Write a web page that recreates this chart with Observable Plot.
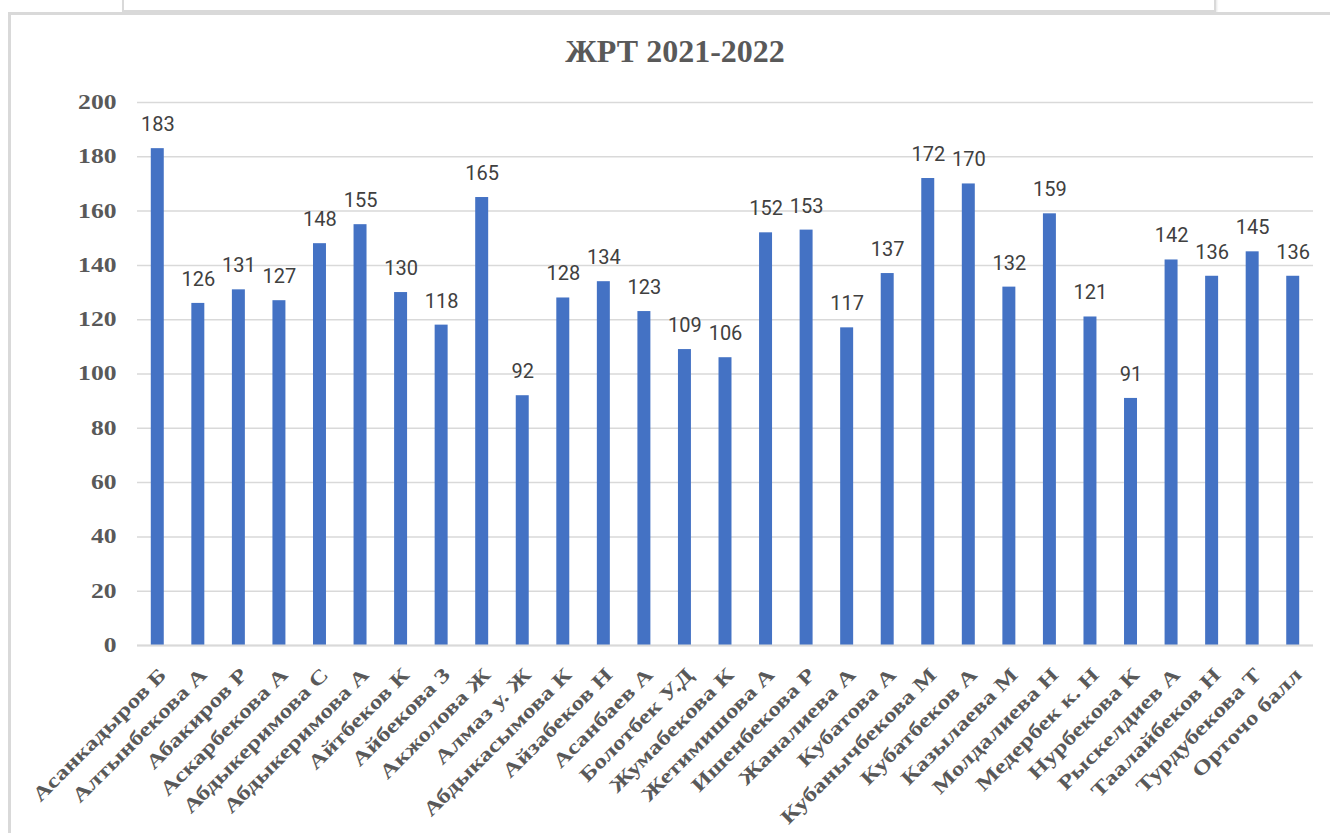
<!DOCTYPE html>
<html>
<head>
<meta charset="utf-8">
<script src="https://cdn.jsdelivr.net/npm/d3@7"></script>
<script src="https://cdn.jsdelivr.net/npm/@observablehq/plot@0.6"></script>
<style>
  html, body { margin: 0; padding: 0; background: #fff; overflow: hidden; }
  #wrap { position: relative; width: 1330px; height: 833px; }
  #topbox { position: absolute; left: 122px; top: -4px; width: 1090px; height: 12px;
            border: 2px solid #d9d9d9; box-shadow: 1px 1px 2px #e6e6e6; }
  #frame { position: absolute; left: 8px; top: 12px; width: 1340px; height: 850px;
           border: 3px solid #d9d9d9; }
  #title { position: absolute; left: 10px; width: 1330px; top: 33px; text-align: center;
           font-family: "Liberation Serif", "Times New Roman", serif; font-weight: bold;
           font-size: 32px; line-height: 1.15; color: #595959; }
  #chart { position: absolute; left: 0; top: 0; }
</style>
</head>
<body>
<div id="wrap">
  <div id="topbox"></div>
  <div id="frame"></div>
  <div id="title">ЖРТ 2021-2022</div>
  <div id="chart"></div>
</div>
<script>
const names = [
  "Асанкадыров Б", "Алтынбекова А", "Абакиров Р", "Аскарбекова А", "Абдыкеримова С",
  "Абдыкеримова А", "Айтбеков К", "Айбекова З", "Акжолова Ж", "Алмаз у. Ж",
  "Абдыкасымова К", "Айзабеков Н", "Асанбаев А", "Болотбек У.Д", "Жумабекова К",
  "Жетимишова А", "Ишенбекова Р", "Жаналиева А", "Кубатова А", "Кубанычбекова М",
  "Кубатбеков А", "Казылаева М", "Молдалиева Н", "Медербек к. Н", "Нурбекова К",
  "Рыскелдиев А", "Таалайбеков Н", "Турдубекова Т", "Орточо балл"
];
const scores = [183, 126, 131, 127, 148, 155, 130, 118, 165, 92, 128, 134, 123, 109, 106,
                152, 153, 117, 137, 172, 170, 132, 159, 121, 91, 142, 136, 145, 136];
const yTicks = [0, 20, 40, 60, 80, 100, 120, 140, 160, 180, 200];

const data = names.map((n, i) => ({name: n, value: scores[i]}));

const chart = Plot.plot({
  width: 1330,
  height: 833,
  marginLeft: 137,
  marginRight: 17,
  marginTop: 102,
  marginBottom: 188,
  style: {background: "transparent", overflow: "visible"},
  x: {domain: names, paddingInner: 0.68, paddingOuter: 0.34, round: false, label: null},
  y: {domain: [0, 200], label: null},
  marks: [
    Plot.gridY(yTicks, {stroke: "#d9d9d9", strokeOpacity: 1, strokeWidth: 1.5}),
    Plot.barY(data, {x: "name", y: "value", fill: "#4472c4"}),
    Plot.ruleY([0], {stroke: "#d9d9d9", strokeWidth: 2}),
    Plot.text(data, {x: "name", y: "value", text: d => String(d.value), dy: -24,
      fill: "#404040", fontSize: 20, fontFamily: "Roboto, sans-serif"}),
    Plot.axisY({ticks: yTicks, tickSize: 0, tickPadding: 21, label: null,
      fontSize: 20, fontWeight: "bold", fontFamily: "Liberation Serif, serif", fill: "#595959"}),
    Plot.axisX({tickSize: 0, tickPadding: 26, tickRotate: -45, label: null, dx: 5,
      fontSize: 20, fontWeight: "bold", fontFamily: "Liberation Serif, serif", fill: "#595959"})
  ]
});
document.getElementById("chart").appendChild(chart);

// stretch serif tick labels horizontally like the original rendering
function stretch(sel, k) {
  d3.select(chart).selectAll(sel).each(function() {
    const len = this.getComputedTextLength();
    this.setAttribute("textLength", (len * k).toFixed(1));
    this.setAttribute("lengthAdjust", "spacingAndGlyphs");
  });
}
stretch('g[aria-label="y-axis tick label"] text', 1.28);
stretch('g[aria-label="x-axis tick label"] text', 1.27);
</script>
</body>
</html>
